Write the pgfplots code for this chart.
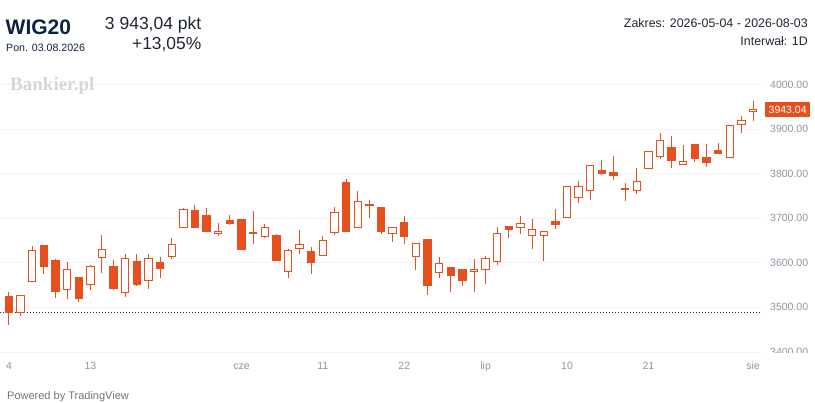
\documentclass[border=0pt]{standalone}
\usepackage{pgfplots}
\pgfplotsset{compat=1.18}
\usepackage{pgfplotstable}
\usepackage{fontspec}
\setmainfont{Liberation Sans}
\newfontfamily\wmfont{Liberation Serif}
\definecolor{candle}{HTML}{E5501E}
\definecolor{gridc}{HTML}{F2F4F9}
\definecolor{axtext}{HTML}{8C95A3}
\definecolor{navy}{HTML}{0E2245}
\definecolor{headtxt}{HTML}{1F2633}

\pgfplotstableread{
i o h l c
0 3524 3535 3461 3488
1 3489 3528 3481 3527
2 3559 3638 3557 3627
3 3638 3640 3574 3591
4 3606 3608 3522 3535
5 3541 3602 3519 3585
6 3567 3569 3511 3519
7 3552 3594 3538 3592
8 3612 3662 3576 3630
9 3592 3606 3539 3543
10 3533 3619 3524 3609
11 3604 3620 3549 3552
12 3561 3620 3541 3610
13 3600 3613 3567 3588
14 3614 3656 3609 3640
15 3679 3722 3678 3720
16 3717 3730 3679 3680
17 3705 3722 3669 3670
18 3665 3689 3661 3670
19 3694 3707 3685 3687
20 3696 3697 3629 3630
21 3666 3716 3642 3667
22 3660 3687 3655 3679
23 3662 3664 3605 3606
24 3580 3630 3567 3628
25 3633 3674 3620 3640
26 3626 3636 3575 3600
27 3617 3661 3616 3650
28 3668 3724 3662 3713
29 3780 3788 3669 3670
30 3679 3762 3678 3737
31 3729 3741 3700 3731
32 3724 3725 3664 3670
33 3666 3681 3647 3680
34 3691 3705 3642 3659
35 3615 3645 3584 3644
36 3653 3654 3528 3550
37 3579 3614 3567 3599
38 3590 3591 3535 3572
39 3585 3586 3548 3561
40 3581 3609 3535 3586
41 3586 3615 3552 3610
42 3604 3681 3595 3666
43 3681 3683 3655 3674
44 3680 3705 3665 3689
45 3661 3698 3630 3674
46 3661 3671 3603 3670
47 3692 3720 3675 3685
48 3702 3772 3700 3770
49 3746 3783 3733 3771
50 3762 3820 3741 3818
51 3808 3830 3797 3801
52 3802 3839 3786 3795
53 3764 3780 3739 3766
54 3763 3812 3754 3782
55 3812 3850 3811 3849
56 3839 3890 3832 3875
57 3859 3884 3812 3830
58 3821 3864 3819 3827
59 3866 3867 3827 3834
60 3836 3866 3814 3824
61 3851 3868 3845 3846
62 3837 3908 3834 3907
63 3911 3930 3890 3919
64 3939 3963 3918 3943.04
}\candles

\pgfplotsset{candleaxis/.style={
  scale only axis, width=762pt, height=286pt,
  xmin=-0.774, xmax=64.774, ymin=3391, ymax=4032.3,
  at={(0pt,47pt)}, anchor=south west,
  axis line style={draw=none},
  major tick length=0pt,
  clip mode=individual,
}}

\begin{document}
\begin{tikzpicture}[x=1pt,y=1pt]
\path[use as bounding box] (0,0) rectangle (815,403);

% background axis: grid, ticks, baseline, wicks
\begin{axis}[candleaxis,
  ytick={3400,3500,3600,3700,3800,3900,4000},
  yticklabel pos=right,
  ymajorgrids, grid style={gridc, line width=0.8pt},
  xtick={0,7,20,27,34,41,48,55,64},
  xticklabels={4,13,cze,11,22,lip,10,21,sie},
  tick label style={font=\fontsize{10.5}{12}\selectfont, text=axtext},
  yticklabel style={anchor=west, inner sep=0pt, xshift=8pt,
    /pgf/number format/.cd, fixed, fixed zerofill, precision=2, 1000 sep={}, assume math mode=true},
  xticklabel style={anchor=base, inner sep=0pt, yshift=-14pt},
]
\addplot[color={rgb,255:red,40;green,40;blue,40}, line width=0.8pt, dash pattern=on 1.3pt off 1.7pt]
  coordinates {(-0.774,3488) (64.774,3488)};
\addplot[draw=none, mark=none,
  error bars/.cd, y dir=plus, y explicit, error mark=none,
  error bar style={draw=candle, line width=1pt, solid}]
  table[x=i, y=l, y error expr={\thisrow{h}-\thisrow{l}}] {\candles};
\end{axis}

% the time scale strip hides the lower half of the lowest price label
\fill[white] (764,0) rectangle (815,50);

% foreground axis: candle bodies
\begin{axis}[candleaxis, ybar stacked, bar width=7.3pt,
  xtick=\empty, ytick=\empty]
\addplot[draw=none, fill=none]
  table[x=i, y expr={min(\thisrow{o},\thisrow{c})}] {\candles};
\addplot[draw=candle, fill=candle, line width=1pt]
  table[x=i, y expr={max(\thisrow{o}-\thisrow{c},0)}] {\candles};
\addplot[draw=candle, fill=white, line width=1pt]
  table[x=i, y expr={max(\thisrow{c}-\thisrow{o},0)}] {\candles};
\node[anchor=west, xshift=3pt, fill=candle, text=white, inner xsep=3.5pt,
  minimum height=15pt, font=\fontsize{10.5}{12}\selectfont]
  at (axis cs:64.774,3943.04) {3943.04};
\end{axis}

% header texts
\node[anchor=base west, inner sep=0pt, font=\fontsize{21}{25}\selectfont\bfseries, text=navy] at (5.5,368) {WIG20};
\node[anchor=base west, inner sep=0pt, font=\fontsize{10.6}{12}\selectfont, text=navy] at (6,351.3) {Pon. 03.08.2026};
\node[anchor=base east, inner sep=0pt, font=\fontsize{17.5}{20}\selectfont, text=headtxt] at (201.5,373) {3 943,04 pkt};
\node[anchor=base east, inner sep=0pt, font=\fontsize{17.4}{20}\selectfont, text=headtxt] at (201.5,353) {+13,05\%};
\node[anchor=base east, inner sep=0pt, font=\fontsize{12.4}{14}\selectfont, text=headtxt] at (808,375.5) {Zakres: 2026-05-04 - 2026-08-03};
\node[anchor=base east, inner sep=0pt, font=\fontsize{12.4}{14}\selectfont, text=headtxt] at (808,357.5) {Interwał: 1D};
\node[anchor=base west, inner sep=0pt, font=\wmfont\fontsize{19}{22}\selectfont\bfseries, text={rgb,255:red,211;green,214;blue,219}] at (10,312) {Bankier.pl};
\node[anchor=base west, inner sep=0pt, font=\fontsize{11}{13}\selectfont, text={rgb,255:red,110;green,116;blue,128}] at (7,3) {Powered by TradingView};
\end{tikzpicture}
\end{document}
